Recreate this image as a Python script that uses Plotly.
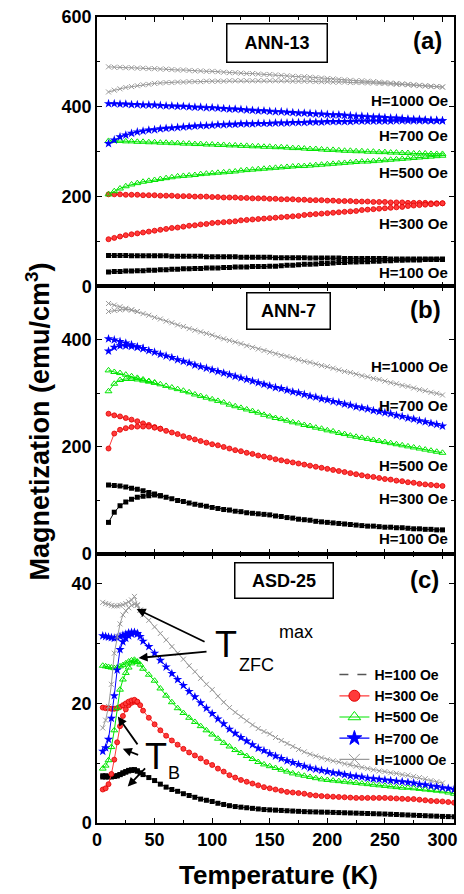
import plotly.graph_objects as go

# ---------------- data ----------------
T_AB = [10, 15, 20, 25, 30, 35, 40, 45, 50, 55,
        60, 65, 70, 75, 80, 85, 90, 95, 100, 105,
        110, 115, 120, 125, 130, 135, 140, 145, 150, 155,
        160, 165, 170, 175, 180, 185, 190, 195, 200, 205,
        210, 215, 220, 225, 230, 235, 240, 245, 250, 255,
        260, 265, 270, 275, 280, 285, 290, 295, 300]

T_C = [5, 7.5, 10, 12.5, 15, 17.5, 20, 22.5, 25, 27.5, 30, 32.5, 35, 37.5, 40,
       45, 50, 55, 60, 65, 70, 75, 80, 85, 90,
       95, 100, 105, 110, 115, 120, 125, 130, 135, 140,
       145, 150, 155, 160, 165, 170, 175, 180, 185, 190,
       195, 200, 205, 210, 215, 220, 225, 230, 235, 240,
       245, 250, 255, 260, 265, 270, 275, 280, 285, 290,
       295, 300, 305, 310]

FIELDS = [100, 300, 500, 700, 1000]

# panel (a) ANN-13
A_1000_FC = [489, 488, 488, 487, 487, 486, 486, 485, 485, 484,
             484, 483, 482, 482, 481, 480, 480, 479, 479, 478,
             477, 476, 476, 475, 474, 474, 473, 472, 472, 471,
             470, 469, 468, 467, 467, 466, 465, 464, 463, 462,
             461, 460, 459, 458, 458, 457, 456, 455, 454, 453,
             452, 451, 450, 449, 448, 447, 446, 445, 444]
A_1000_ZFC = [433, 437, 440, 443, 445, 447, 449, 450, 452, 453,
              454, 454, 455, 455, 456, 456, 456, 457, 457, 457,
              457, 458, 458, 458, 458, 458, 458, 458, 458, 458,
              458, 458, 457, 457, 457, 457, 456, 456, 456, 455,
              455, 455, 454, 454, 454, 453, 453, 452, 452, 451,
              450, 450, 449, 448, 447, 446, 445, 445, 444]
A_700_FC = [407, 407, 406, 406, 405, 405, 404, 404, 404, 403,
            402, 402, 401, 401, 400, 399, 399, 398, 398, 397,
            396, 395, 395, 394, 393, 392, 391, 391, 390, 389,
            389, 388, 387, 386, 386, 385, 384, 384, 383, 382,
            382, 381, 380, 379, 379, 378, 377, 377, 376, 375,
            375, 374, 373, 372, 372, 371, 370, 370, 369]
A_700_ZFC = [318, 326, 333, 337, 341, 344, 346, 348, 349, 351,
             352, 353, 354, 355, 356, 357, 358, 358, 359, 360,
             360, 361, 361, 362, 362, 362, 363, 363, 363, 364,
             364, 364, 365, 365, 365, 366, 366, 366, 367, 367,
             367, 367, 367, 368, 368, 368, 368, 368, 368, 368,
             369, 369, 369, 369, 369, 369, 369, 369, 369]
A_500_FC = [324, 324, 324, 323, 323, 322, 322, 321, 321, 320,
            320, 319, 319, 318, 318, 317, 317, 316, 316, 315,
            315, 314, 314, 313, 313, 312, 312, 311, 311, 310,
            310, 309, 308, 308, 307, 306, 306, 305, 304, 304,
            303, 302, 302, 301, 301, 300, 300, 299, 299, 298,
            298, 297, 297, 296, 296, 296, 295, 295, 295]
A_500_ZFC = [205, 212, 218, 223, 227, 230, 233, 235, 237, 239,
             241, 243, 245, 246, 247, 248, 250, 251, 252, 253,
             254, 255, 256, 258, 259, 260, 261, 262, 263, 264,
             265, 266, 267, 268, 268, 269, 270, 271, 272, 273,
             274, 275, 276, 277, 278, 278, 279, 280, 281, 282,
             283, 284, 285, 286, 287, 288, 289, 290, 291]
A_300_FC = [205, 205, 205, 204, 204, 204, 203, 203, 203, 202,
            202, 202, 201, 201, 201, 200, 200, 200, 199, 199,
            198, 198, 198, 197, 197, 196, 196, 196, 195, 195,
            194, 194, 194, 193, 193, 192, 192, 192, 191, 191,
            190, 190, 190, 189, 189, 189, 188, 188, 188, 187,
            187, 187, 186, 186, 186, 186, 185, 185, 185]
A_300_ZFC = [105, 108, 111, 114, 116, 118, 120, 122, 124, 126,
             128, 130, 131, 133, 135, 136, 138, 139, 141, 142,
             143, 144, 145, 147, 148, 149, 150, 151, 152, 153,
             154, 155, 156, 157, 159, 160, 161, 162, 163, 164,
             165, 166, 167, 168, 170, 171, 172, 173, 174, 175,
             176, 177, 179, 180, 181, 182, 183, 184, 185]
A_100_FC = [69, 69, 69, 69, 68, 68, 68, 68, 68, 68,
            68, 67, 67, 67, 67, 67, 67, 66, 66, 66,
            66, 66, 66, 65, 65, 65, 65, 65, 65, 64,
            64, 64, 64, 64, 64, 63, 63, 63, 63, 63,
            63, 62, 62, 62, 62, 62, 62, 62, 62, 61,
            61, 61, 61, 61, 61, 61, 61, 61, 61]
A_100_ZFC = [32, 33, 33, 34, 34, 35, 35, 36, 36, 37,
             37, 38, 38, 39, 39, 40, 40, 41, 41, 41,
             42, 42, 43, 43, 43, 44, 44, 44, 45, 45,
             46, 47, 47, 48, 49, 49, 50, 51, 51, 52,
             53, 53, 54, 54, 55, 55, 56, 56, 57, 57,
             58, 58, 59, 59, 59, 60, 60, 60, 60]

# panel (b) ANN-7
B_1000_FC = [468, 465, 462, 459, 456, 453, 449, 446, 442, 439,
             435, 432, 428, 425, 421, 418, 415, 412, 409, 405,
             402, 399, 396, 393, 389, 386, 383, 380, 377, 374,
             371, 369, 366, 363, 360, 358, 355, 352, 350, 347,
             344, 341, 339, 336, 333, 331, 328, 326, 323, 320,
             318, 315, 313, 310, 307, 305, 302, 300, 297]
B_1000_ZFC = [453, 455, 456, 457, 456, 453]
B_700_FC = [402, 400, 397, 394, 391, 387, 384, 380, 377, 373,
            370, 367, 363, 360, 357, 353, 350, 347, 344, 341,
            338, 335, 332, 329, 326, 323, 320, 317, 314, 311,
            309, 306, 303, 301, 298, 295, 293, 290, 288, 285,
            283, 280, 278, 275, 273, 271, 268, 266, 264, 262,
            259, 257, 254, 252, 249, 247, 244, 242, 239]
B_700_ZFC = [379, 386, 389, 389, 388, 386, 384]
B_500_FC = [343, 340, 338, 335, 332, 329, 326, 323, 320, 317,
            314, 311, 308, 305, 302, 298, 295, 292, 289, 286,
            283, 279, 276, 273, 270, 267, 264, 260, 257, 254,
            252, 249, 246, 244, 241, 239, 236, 234, 231, 229,
            226, 224, 221, 219, 217, 215, 213, 211, 209, 207,
            205, 203, 201, 199, 197, 195, 193, 191, 189]
B_500_ZFC = [304, 318, 325, 327, 327, 326, 324, 322, 320]
B_300_FC = [262, 259, 257, 254, 251, 248, 244, 241, 237, 234,
            230, 227, 224, 220, 217, 214, 211, 208, 205, 203,
            200, 197, 194, 192, 189, 187, 184, 182, 180, 177,
            175, 173, 171, 169, 167, 165, 163, 161, 159, 157,
            155, 153, 151, 149, 147, 145, 144, 142, 140, 139,
            137, 136, 134, 133, 131, 130, 129, 128, 127]
B_300_ZFC = [197, 225, 232, 235, 237, 238, 238, 238, 236, 234]
B_100_FC = [129, 128, 127, 125, 123, 121, 118, 115, 112, 109,
            106, 103, 100, 98, 95, 93, 91, 89, 87, 85,
            83, 82, 80, 79, 77, 76, 75, 74, 73, 71,
            70, 68, 67, 65, 64, 63, 61, 60, 59, 58,
            57, 56, 55, 54, 53, 52, 52, 51, 50, 50,
            49, 49, 48, 47, 47, 46, 46, 45, 45]
B_100_ZFC = [59, 78, 90, 97, 102, 106, 108, 109, 110, 109]

# panel (c) ASD-25
C_1000_FC = [36.9, 36.7, 36.6, 36.4, 36.3, 36.3, 36.4, 36.5, 36.7, 37.0, 37.3, 37.9, 36.5, 35.6, 34.8,
             33.9, 32.8, 31.7, 30.6, 29.5, 28.4, 27.4, 26.3, 25.3, 24.2,
             23.2, 22.3, 21.2, 20.2, 19.3, 18.5, 17.8, 17.1, 16.4, 15.8,
             15.3, 14.9, 14.3, 13.8, 13.3, 12.8, 12.3, 11.9, 11.5, 11.2,
             10.9, 10.6, 10.4, 10.2, 9.9, 9.7, 9.5, 9.3, 9.1, 8.9,
             8.7, 8.6, 8.4, 8.3, 8.1, 8.0, 7.8, 7.6, 7.4, 7.1,
             6.9, 6.7]
C_1000_ZFC = [15.9, 17.2, 19.5, 23.2, 28.4, 31.2, 33.3, 34.8, 35.5, 36.0, 36.4, 36.6, 36.4, 35.6]
C_700_FC = [31.3, 31.2, 31.1, 31.0, 30.9, 31.0, 31.2, 31.4, 31.6, 31.8, 31.9, 31.9, 31.7, 31.2, 30.4,
            29.5, 28.4, 27.2, 26.1, 25.0, 24.0, 23.0, 22.0, 21.1, 20.1,
            19.2, 18.3, 17.4, 16.6, 15.7, 15.0, 14.3, 13.7, 13.1, 12.5,
            12.1, 11.6, 11.2, 10.8, 10.4, 10.1, 9.8, 9.5, 9.2, 9.0,
            8.8, 8.6, 8.4, 8.3, 8.1, 7.9, 7.8, 7.7, 7.5, 7.4,
            7.3, 7.2, 7.1, 7.0, 6.9, 6.8, 6.7, 6.5, 6.4, 6.2,
            6.1, 5.9, 5.8, 5.6]
C_700_ZFC = [12.0, 12.6, 14.0, 17.5, 21.3, 25.6, 29.0, 30.3, 30.9, 31.3, 31.6, 31.8, 31.6]
C_500_FC = [26.3, 26.2, 26.1, 26.0, 25.9, 26.0, 26.2, 26.4, 26.7, 27.0, 27.2, 27.3, 27.0, 26.5, 25.8,
            24.8, 23.8, 22.5, 21.3, 20.2, 19.2, 18.4, 17.6, 16.9, 16.2,
            15.5, 14.8, 14.1, 13.4, 12.8, 12.2, 11.7, 11.2, 10.7, 10.2,
            9.8, 9.5, 9.2, 8.9, 8.6, 8.3, 8.1, 7.9, 7.7, 7.5,
            7.3, 7.2, 7.1, 7.0, 6.9, 6.8, 6.7, 6.6, 6.5, 6.4,
            6.3, 6.2, 6.1, 6.0, 5.9, 5.9, 5.8, 5.7, 5.6, 5.5,
            5.4, 5.3, 5.1, 4.9]
C_500_ZFC = [9.1, 9.6, 10.5, 12.7, 15.5, 19.2, 22.3, 24.0, 25.1, 26.0, 26.7, 27.0, 26.9]
C_300_FC = [19.3, 19.2, 19.2, 19.1, 19.1, 19.2, 19.4, 19.7, 20.0, 20.3, 20.5, 20.6, 20.3, 19.7, 18.8,
            17.6, 16.5, 15.5, 14.6, 13.8, 13.1, 12.4, 11.8, 11.3, 10.8,
            10.2, 9.7, 9.1, 8.6, 8.0, 7.6, 7.2, 6.9, 6.6, 6.3,
            6.0, 5.8, 5.6, 5.4, 5.2, 5.1, 5.0, 4.9, 4.7, 4.6,
            4.5, 4.45, 4.4, 4.35, 4.3, 4.25, 4.2, 4.2, 4.2, 4.2,
            4.2, 4.2, 4.15, 4.1, 4.05, 4.0, 4.0, 3.9, 3.8, 3.7,
            3.65, 3.6, 3.5, 3.4]
C_300_ZFC = [5.6, 5.8, 6.5, 8.2, 10.6, 13.5, 16.2, 17.9, 19.0, 19.7, 20.1, 20.3, 20.2]
C_100_FC = [7.9, 7.9, 7.8, 7.8, 7.8, 7.9, 8.1, 8.4, 8.6, 8.8, 8.9, 8.9, 8.7, 8.4, 8.1,
            7.6, 7.1, 6.5, 6.0, 5.6, 5.3, 4.9, 4.6, 4.3, 4.0,
            3.8, 3.6, 3.3, 3.1, 2.9, 2.75, 2.65, 2.55, 2.45, 2.35,
            2.25, 2.2, 2.15, 2.1, 2.05, 2.0, 1.95, 1.9, 1.87, 1.85,
            1.82, 1.8, 1.77, 1.74, 1.71, 1.68, 1.65, 1.62, 1.59, 1.56,
            1.53, 1.5, 1.46, 1.42, 1.38, 1.34, 1.3, 1.26, 1.22, 1.18,
            1.14, 1.1, 1.07, 1.05]
C_100_ZFC = [7.7, 7.7, 7.7, 7.7, 7.8, 7.9, 8.1, 8.3, 8.5, 8.7, 8.8, 8.9, 8.7]

PANEL_A = {100: (A_100_FC, A_100_ZFC), 300: (A_300_FC, A_300_ZFC), 500: (A_500_FC, A_500_ZFC),
           700: (A_700_FC, A_700_ZFC), 1000: (A_1000_FC, A_1000_ZFC)}
PANEL_B = {100: (B_100_FC, B_100_ZFC), 300: (B_300_FC, B_300_ZFC), 500: (B_500_FC, B_500_ZFC),
           700: (B_700_FC, B_700_ZFC), 1000: (B_1000_FC, B_1000_ZFC)}
PANEL_C = {100: (C_100_FC, C_100_ZFC), 300: (C_300_FC, C_300_ZFC), 500: (C_500_FC, C_500_ZFC),
           700: (C_700_FC, C_700_ZFC), 1000: (C_1000_FC, C_1000_ZFC)}

SAMPLES = ["ANN-13", "ANN-7", "ASD-25"]
PANEL_TAGS = ["(a)", "(b)", "(c)"]
FIELD_LABELS = ["H=%d Oe" % h for h in FIELDS]

# ---------------- styles ----------------
FONT = "Liberation Sans"
STY = {
    100: dict(color="#000000", symbol="square", size=5, lc="#000000", lw=0),
    300: dict(color="#ff3a3a", symbol="circle", size=5, lc="#e00000", lw=0.8),
    500: dict(color="#00e600", symbol="triangle-up-open", size=6, lc="#00e600", lw=1),
    700: dict(color="#0000ff", symbol="star", size=7, lc="#0000ff", lw=0),
    1000: dict(color="#9a9a9a", symbol="x-thin-open", size=5, lc="#9a9a9a", lw=1),
}

fig = go.Figure()


def add_curve(x, y, xa, ya, h, line_w=1.0):
    s = STY[h]
    fig.add_trace(go.Scatter(
        x=x, y=y, xaxis=xa, yaxis=ya, mode="lines+markers", showlegend=False,
        line=dict(color=s["color"], width=line_w),
        marker=dict(symbol=s["symbol"], size=s["size"], color=s["color"],
                    line=dict(color=s["lc"], width=s["lw"]))))


for h in FIELDS:
    fc, zfc = PANEL_A[h]
    add_curve(T_AB[:len(fc)], fc, "x", "y", h)
    add_curve(T_AB[:len(zfc)], zfc, "x", "y", h)
    fc, zfc = PANEL_B[h]
    add_curve(T_AB[:len(fc)], fc, "x2", "y2", h)
    add_curve(T_AB[:len(zfc)], zfc, "x2", "y2", h)
    fc, zfc = PANEL_C[h]
    add_curve(T_C[:len(zfc)], zfc, "x3", "y3", h)
    add_curve(T_C[:len(fc)], fc, "x3", "y3", h)

# legend entries (panel c)
for h, lab in zip(FIELDS, FIELD_LABELS):
    s = STY[h]
    if h == 100:
        fig.add_trace(go.Scatter(x=[None], y=[None], xaxis="x3", yaxis="y3", mode="lines", name=lab,
                                 line=dict(color="#555555", width=1.5, dash="dash")))
    else:
        fig.add_trace(go.Scatter(x=[None], y=[None], xaxis="x3", yaxis="y3", mode="lines+markers", name=lab,
                                 line=dict(color=s["color"], width=1.2),
                                 marker=dict(symbol=s["symbol"], size=11, color=s["color"],
                                             line=dict(color=s["lc"], width=max(s["lw"], 1)))))

# ---------------- axes ----------------
tickfont = dict(family=FONT, size=18, color="black", weight="bold")
D_A = [0.6658, 1.0]
D_B = [0.3338, 0.6658]
D_C = [0.0, 0.3338]


def xax(anchor, labels):
    return dict(range=[0, 310], anchor=anchor, ticks="inside", ticklen=5, tickwidth=1, tickcolor="black",
                dtick=50, tick0=0, showline=True, linewidth=1.5, linecolor="black", mirror="ticks",
                showgrid=False, zeroline=False, showticklabels=labels, tickfont=tickfont,
                minor=dict(dtick=25, ticklen=3, ticks="inside", tickcolor="black", showgrid=False))


def yax(anchor, dom, rng, dt, mdt):
    return dict(domain=dom, range=rng, anchor=anchor, ticks="inside", ticklen=5, tickwidth=1,
                tickcolor="black", dtick=dt, tick0=0, showline=True, linewidth=1.5, linecolor="black",
                mirror="ticks", showgrid=False, zeroline=False, tickfont=tickfont,
                minor=dict(dtick=mdt, ticklen=3, ticks="inside", tickcolor="black", showgrid=False))


fig.update_layout(
    width=464, height=894,
    margin=dict(l=97, r=7, t=15, b=71),
    paper_bgcolor="white", plot_bgcolor="white",
    xaxis=xax("y", False), xaxis2=xax("y2", False), xaxis3=xax("y3", True),
    yaxis=yax("x", D_A, [0, 600], 200, 100),
    yaxis2=yax("x2", D_B, [0, 500], 200, 100),
    yaxis3=yax("x3", D_C, [0, 45], 20, 10),
    legend=dict(x=0.665, y=0.2035, xanchor="left", yanchor="top", bgcolor="rgba(0,0,0,0)",
                font=dict(family=FONT, size=14, color="black", weight="bold"),
                tracegroupgap=0, itemwidth=30, itemsizing="trace"),
    showlegend=True,
)

ann = []
# sample boxes
BOXES = [("x", "y", 156.2, 543, 95, 33), ("x2", "y2", 166.1, 454, 78, 31), ("x3", "y3", 162.2, 40.5, 93, 30)]
for (xr, yr, bx, by, bw, bh), name in zip(BOXES, SAMPLES):
    ann.append(dict(xref=xr, yref=yr, x=bx, y=by, text=name, showarrow=False, width=bw, height=bh,
                    bordercolor="black", borderwidth=1.5, borderpad=2, bgcolor="white",
                    font=dict(family=FONT, size=18, color="black", weight="bold")))
# panel tags
TAGS = [("x", "y", 287.4, 546.7), ("x2", "y2", 284.9, 457), ("x3", "y3", 284, 40.7)]
for (xr, yr, tx, ty), tag in zip(TAGS, PANEL_TAGS):
    ann.append(dict(xref=xr, yref=yr, x=tx, y=ty, text=tag, showarrow=False,
                    font=dict(family=FONT, size=24, color="black", weight="bold")))
# field labels
LAB_Y_A = [31, 140, 253, 335.6, 413]
LAB_Y_B = [29, 104, 166, 278, 351]
for lab, ya_, yb_ in zip(FIELD_LABELS, LAB_Y_A, LAB_Y_B):
    for xr, yr, yy in (("x", "y", ya_), ("x2", "y2", yb_)):
        ann.append(dict(xref=xr, yref=yr, x=306.5, y=yy, text=lab, showarrow=False, xanchor="right",
                        font=dict(family=FONT, size=15, color="black", weight="bold")))
# T_ZFC^max and T_B
big = dict(family=FONT, size=36, color="black")
small = dict(family=FONT, size=18, color="black")
ann += [
    dict(xref="x3", yref="y3", x=111.9, y=29.8, text="T", showarrow=False, font=big),
    dict(xref="x3", yref="y3", x=138.5, y=26.4, text="ZFC", showarrow=False, font=small),
    dict(xref="x3", yref="y3", x=173, y=31.9, text="max", showarrow=False, font=small),
    dict(xref="x3", yref="y3", x=51.5, y=11.1, text="T", showarrow=False, font=big),
    dict(xref="x3", yref="y3", x=66.5, y=8.4, text="B", showarrow=False, font=small),
]
ARROWS = [((34.4, 35.8), (94.7, 30.2)), ((36.1, 27.6), (96.4, 28.7)),
          ((18.1, 17.8), (36.1, 12.9)), ((22.4, 12.4), (37.0, 11.3)), ((26.7, 6.1), (43.0, 9.4))]
for (hx, hy), (tx, ty) in ARROWS:
    ann.append(dict(xref="x3", yref="y3", axref="x3", ayref="y3", x=hx, y=hy, ax=tx, ay=ty, text="",
                    showarrow=True, arrowhead=2, arrowsize=1, arrowwidth=1.8, arrowcolor="black"))
# axis titles
ann.append(dict(xref="paper", yref="paper", x=0.508, y=-0.0644, xanchor="center", yanchor="middle",
                text="Temperature (K)", showarrow=False,
                font=dict(family=FONT, size=26, color="black", weight="bold")))
ann.append(dict(xref="paper", yref="paper", x=-0.1667, y=0.4988, xanchor="center", yanchor="middle",
                text="Magnetization (emu/cm<sup>3</sup>)",
                showarrow=False, textangle=-90,
                font=dict(family=FONT, size=27, color="black", weight="bold")))
fig.update_layout(annotations=ann)

fig.write_html("out.html")
